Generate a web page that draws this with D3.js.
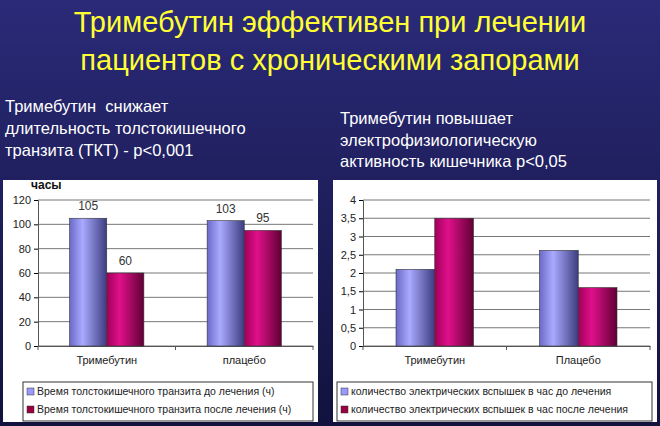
<!DOCTYPE html><html><head><meta charset="utf-8"><script src="https://cdn.jsdelivr.net/npm/d3@7"></script>
<style>body{margin:0;background:#000}svg{display:block}text{font-family:"Liberation Sans",Arial,sans-serif}</style></head><body>
<script>
const categoriesL=["Тримебутин","плацебо"];
const beforeL=[105,103], afterL=[60,95];
const ticksL=[0,20,40,60,80,100,120];
const categoriesR=["Тримебутин","Плацебо"];
const beforeR=[2.1,2.62], afterR=[3.5,1.6];
const ticksR=[0,0.5,1,1.5,2,2.5,3,3.5,4];
const legendL=["Время толстокишечного транзита до лечения (ч)","Время толстокишечного транзита после лечения (ч)"];
const legendR=["количество электрических вспышек в час до лечения","количество электрических вспышек в час после лечения"];

const W=660,H=426;
const svg=d3.select("body").append("svg").attr("width",W).attr("height",H);
const defs=svg.append("defs");
const bg=defs.append("linearGradient").attr("id","bg").attr("x1",0).attr("y1",0).attr("x2",0).attr("y2",1);
bg.append("stop").attr("offset",0).attr("stop-color","#2a2a78");
bg.append("stop").attr("offset",1).attr("stop-color","#12123e");
function cyl(id,c1,c2,c3){const g=defs.append("linearGradient").attr("id",id);
 g.append("stop").attr("offset",0).attr("stop-color",c1);
 g.append("stop").attr("offset",0.35).attr("stop-color",c2);
 g.append("stop").attr("offset",1).attr("stop-color",c3);}
cyl("gb","#6a6ac8","#aaaaff","#3c3c80");
cyl("gm","#a0005a","#e0108a","#600035");
svg.append("rect").attr("width",W).attr("height",H).attr("fill","url(#bg)");
svg.append("text").attr("x",330).attr("y",32).attr("text-anchor","middle").attr("fill","#ffff33").attr("font-size",29).text("Тримебутин эффективен при лечении");
svg.append("text").attr("x",330).attr("y",70).attr("text-anchor","middle").attr("fill","#ffff33").attr("font-size",29).text("пациентов с хроническими запорами");
[["Тримебутин  снижает",112],["длительность толстокишечного",134],["транзита (ТКТ) - p<0,001",156]].forEach(d=>svg.append("text").attr("x",5).attr("y",d[1]).attr("fill","#fff").attr("font-size",16.5).attr("xml:space","preserve").text(d[0]));
[["Тримебутин повышает",124],["электрофизиологическую",146],["активность кишечника p<0,05",167]].forEach(d=>svg.append("text").attr("x",340).attr("y",d[1]).attr("fill","#fff").attr("font-size",16.5).text(d[0]));

function panel(o){
 const g=svg.append("g");
 g.append("rect").attr("x",o.bx).attr("y",180).attr("width",o.bw).attr("height",242).attr("fill","#fff");
 const y=d3.scaleLinear().domain([0,o.max]).range([346,200]);
 const x=d3.scaleBand().domain(o.cats).range([o.x0,o.x1]);
 o.ticks.forEach(t=>{g.append("line").attr("x1",o.x0).attr("x2",o.x1).attr("y1",y(t)).attr("y2",y(t)).attr("stroke","#777").attr("stroke-width",1);});
 const ay=g.append("g").attr("transform",`translate(${o.x0},0)`).call(d3.axisLeft(y).tickValues(o.ticks).tickSize(4).tickFormat(o.fmt));
 ay.selectAll("text").attr("font-size",11).attr("fill","#222"); ay.select(".domain").attr("stroke","#555");
 const ax=g.append("g").attr("transform","translate(0,346)").call(d3.axisBottom(x).tickSize(0).tickPadding(10));
 ax.selectAll("text").attr("font-size",11).attr("fill","#222"); ax.select(".domain").attr("stroke","#555");
 [o.x0,(o.x0+o.x1)/2,o.x1].forEach(v=>g.append("line").attr("x1",v).attr("x2",v).attr("y1",346).attr("y2",350).attr("stroke","#555"));
 const bw=x.bandwidth()*0.27;
 o.cats.forEach((c,i)=>{
  const cx=x(c)+x.bandwidth()/2;
  [[o.b[i],"url(#gb)",cx-bw],[o.a[i],"url(#gm)",cx]].forEach(d=>{
   g.append("rect").attr("x",d[2]).attr("y",y(d[0])).attr("width",bw).attr("height",346-y(d[0])).attr("fill",d[1]).attr("stroke","#333").attr("stroke-width",0.6);
   if(o.labels) g.append("text").attr("x",d[2]+bw/2).attr("y",y(d[0])-8).attr("text-anchor","middle").attr("font-size",12).attr("fill","#333").text(d[0]);
  });
 });
 g.append("rect").attr("x",o.lx).attr("y",382).attr("width",o.lw).attr("height",39).attr("fill","#fff").attr("stroke","#333");
 o.leg.forEach((t,i)=>{
  g.append("rect").attr("x",o.lx+4).attr("y",388+i*18).attr("width",7).attr("height",7).attr("fill",i?"#99003f":"#9999ff").attr("stroke","#333").attr("stroke-width",0.5);
  g.append("text").attr("x",o.lx+14).attr("y",395+i*18).attr("font-size",10.5).attr("fill","#222").text(t);
 });
 return g;
}
const gl=panel({bx:3,bw:315,x0:38,x1:313,max:120,ticks:ticksL,cats:categoriesL,b:beforeL,a:afterL,labels:true,fmt:d3.format("d"),lx:23,lw:290,leg:legendL});
gl.append("text").attr("x",31).attr("y",189).attr("font-size",12).attr("font-weight","bold").attr("fill","#111").text("часы");
panel({bx:333,bw:324,x0:363,x1:650,max:4,ticks:ticksR,cats:categoriesR,b:beforeR,a:afterR,labels:false,fmt:d=>String(d).replace(".",","),lx:337,lw:315,leg:legendR});
</script></body></html>
